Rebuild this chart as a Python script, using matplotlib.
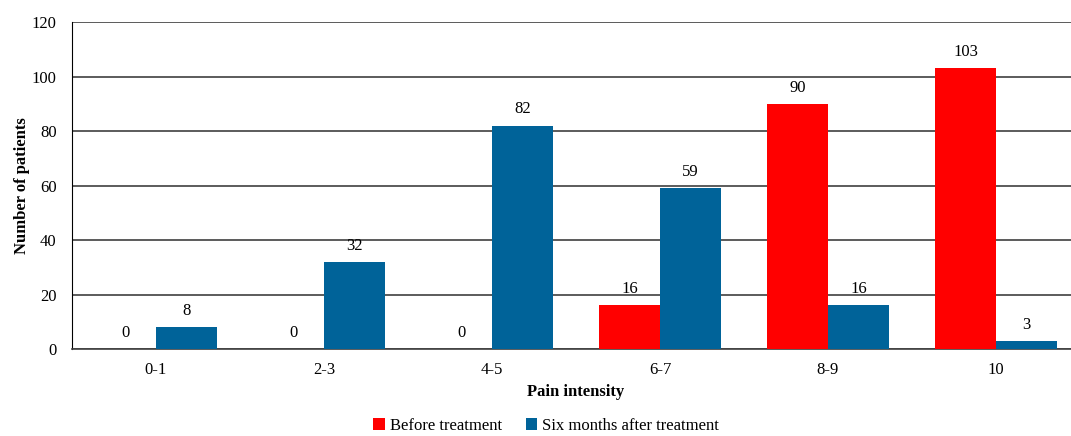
import numpy as np
import matplotlib.pyplot as plt

plt.rcParams['font.family'] = ['Liberation Serif', 'DejaVu Serif']

categories = ['0-1', '2-3', '4-5', '6-7', '8-9', '10']
before = [0, 0, 0, 16, 90, 103]
after = [8, 32, 82, 59, 16, 3]

red = '#FF0000'
blue = '#006399'

fig = plt.figure(figsize=(10.71, 4.36), dpi=100)
# the plot area runs a little past the right edge, as in the original
ax = fig.add_axes([0.0672, 0.1995, 0.9412, 0.75])

x = np.arange(len(categories))
w = 0.363
b1 = ax.bar(x - w / 2, before, w, color=red, label='Before treatment', zorder=3)
b2 = ax.bar(x + w / 2, after, w, color=blue, label='Six months after treatment', zorder=3)

for bars, vals in ((b1, before), (b2, after)):
    for r, v in zip(bars, vals):
        ax.text(r.get_x() + r.get_width() / 2, v + 3, str(v),
                ha='center', va='bottom', fontsize=12)

ax.set_xlim(-0.5, len(categories) - 0.5)
ax.set_ylim(0, 120)
ax.set_yticks(range(0, 121, 20))
ax.set_xticks(x)
ax.set_xticklabels(categories)
ax.tick_params(length=0, labelsize=12)
ax.tick_params(axis='x', pad=9)
ax.tick_params(axis='y', pad=11)
ax.yaxis.grid(True, color='#404040', lw=1.2, zorder=0)
for s in ('top', 'right'):
    ax.spines[s].set_visible(False)
ax.spines['left'].set_color('black')
ax.spines['bottom'].set_color('#404040')
ax.spines['bottom'].set_linewidth(1.2)

ax.set_xlabel('Pain intensity', fontsize=12, fontweight='bold', labelpad=5)
ax.set_ylabel('Number of patients', fontsize=12, fontweight='bold', labelpad=1)

fig.legend(handles=[b1, b2], loc='lower center', ncol=2, frameon=False,
           bbox_to_anchor=(0.51, -0.03), fontsize=12, handlelength=0.7,
           handleheight=0.7, handletextpad=0.3, columnspacing=1.4)

fig.savefig('out.png', dpi=100)
